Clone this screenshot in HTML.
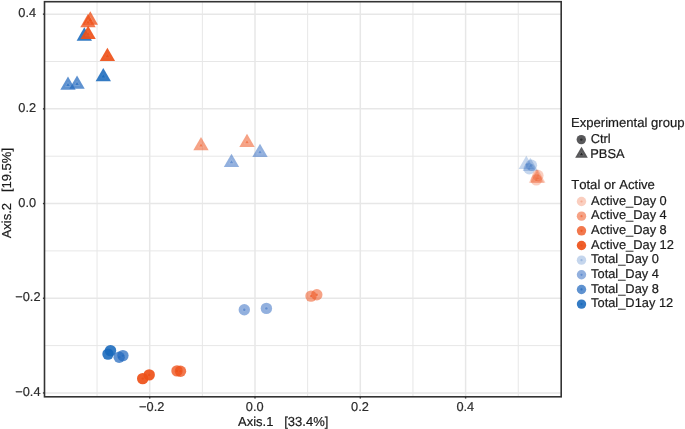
<!DOCTYPE html>
<html lang="en"><head><meta charset="utf-8"><title>PCoA</title>
<style>
html,body{margin:0;padding:0;background:#fff;}
body{width:685px;height:429px;overflow:hidden;}
svg{display:block;} text{stroke-width:0.2px;paint-order:stroke;} .ax{stroke:#2b2b2b;} .tt,.lt,.ll{stroke:#1a1a1a;} svg{text-rendering:geometricPrecision;font-family:"Liberation Sans",sans-serif;font-size:13px;}
.ax{fill:#2b2b2b;font-size:12.8px;}
.tt{fill:#1a1a1a;}
.lt{fill:#1a1a1a;font-size:13.1px;font-kerning:none;}
.ll{fill:#1a1a1a;font-size:12.85px;}
</style></head><body>
<svg width="685" height="429" viewBox="0 0 685 429">
<rect x="0" y="0" width="685" height="429" fill="#fff"/>
<g stroke="#E7E7E7" stroke-width="1.0" fill="none">
<line x1="97.05" y1="1.7" x2="97.05" y2="396.8"/>
<line x1="202.35" y1="1.7" x2="202.35" y2="396.8"/>
<line x1="307.65" y1="1.7" x2="307.65" y2="396.8"/>
<line x1="412.95" y1="1.7" x2="412.95" y2="396.8"/>
<line x1="518.25" y1="1.7" x2="518.25" y2="396.8"/>
<line x1="44.5" y1="345.60" x2="561.2" y2="345.60"/>
<line x1="44.5" y1="250.90" x2="561.2" y2="250.90"/>
<line x1="44.5" y1="156.20" x2="561.2" y2="156.20"/>
<line x1="44.5" y1="61.50" x2="561.2" y2="61.50"/>
</g>
<g stroke="#E7E7E7" stroke-width="1.5" fill="none">
<line x1="149.70" y1="1.7" x2="149.70" y2="396.8"/>
<line x1="255.00" y1="1.7" x2="255.00" y2="396.8"/>
<line x1="360.30" y1="1.7" x2="360.30" y2="396.8"/>
<line x1="465.60" y1="1.7" x2="465.60" y2="396.8"/>
<line x1="44.5" y1="392.95" x2="561.2" y2="392.95"/>
<line x1="44.5" y1="298.25" x2="561.2" y2="298.25"/>
<line x1="44.5" y1="203.55" x2="561.2" y2="203.55"/>
<line x1="44.5" y1="108.85" x2="561.2" y2="108.85"/>
<line x1="44.5" y1="14.15" x2="561.2" y2="14.15"/>
</g>
<g>
<polygon points="84.30,27.34 91.98,40.63 76.62,40.63" fill="#1869BC" fill-opacity="0.88"/>
<polygon points="84.30,32.27 87.53,37.87 81.07,37.87" fill="#fff" fill-opacity="0.05"/>
<polygon points="84.30,33.88 86.05,36.91 82.55,36.91" fill="#1869BC" fill-opacity="0.88"/>
<polygon points="103.30,67.94 110.98,81.23 95.62,81.23" fill="#1869BC" fill-opacity="0.88"/>
<polygon points="103.30,72.87 106.53,78.47 100.07,78.47" fill="#fff" fill-opacity="0.05"/>
<polygon points="103.30,74.48 105.05,77.51 101.55,77.51" fill="#1869BC" fill-opacity="0.88"/>
<polygon points="68.00,76.54 75.68,89.83 60.32,89.83" fill="#2469BF" fill-opacity="0.73"/>
<polygon points="68.00,81.47 71.23,87.07 64.77,87.07" fill="#fff" fill-opacity="0.13"/>
<polygon points="68.00,83.08 69.75,86.11 66.25,86.11" fill="#2469BF" fill-opacity="0.73"/>
<polygon points="77.05,75.54 84.73,88.83 69.37,88.83" fill="#2469BF" fill-opacity="0.73"/>
<polygon points="77.05,80.47 80.28,86.07 73.82,86.07" fill="#fff" fill-opacity="0.13"/>
<polygon points="77.05,82.08 78.80,85.11 75.30,85.11" fill="#2469BF" fill-opacity="0.73"/>
<polygon points="231.50,153.74 239.18,167.03 223.82,167.03" fill="#3870C2" fill-opacity="0.55"/>
<polygon points="231.50,158.67 234.73,164.27 228.27,164.27" fill="#fff" fill-opacity="0.13"/>
<polygon points="231.50,160.28 233.25,163.31 229.75,163.31" fill="#3870C2" fill-opacity="0.55"/>
<polygon points="260.00,143.64 267.68,156.93 252.32,156.93" fill="#3870C2" fill-opacity="0.55"/>
<polygon points="260.00,148.57 263.23,154.17 256.77,154.17" fill="#fff" fill-opacity="0.13"/>
<polygon points="260.00,150.18 261.75,153.21 258.25,153.21" fill="#3870C2" fill-opacity="0.55"/>
<polygon points="526.30,155.74 533.98,169.03 518.62,169.03" fill="#2F6CC0" fill-opacity="0.28"/>
<polygon points="526.30,160.67 529.53,166.27 523.07,166.27" fill="#fff" fill-opacity="0.13"/>
<polygon points="526.30,162.28 528.05,165.31 524.55,165.31" fill="#2F6CC0" fill-opacity="0.28"/>
<polygon points="530.30,157.64 537.98,170.93 522.62,170.93" fill="#2F6CC0" fill-opacity="0.28"/>
<polygon points="530.30,162.57 533.53,168.17 527.07,168.17" fill="#fff" fill-opacity="0.13"/>
<polygon points="530.30,164.18 532.05,167.21 528.55,167.21" fill="#2F6CC0" fill-opacity="0.28"/>
<circle cx="529.20" cy="168.80" r="5.70" fill="#2F6CC0" fill-opacity="0.28"/>
<circle cx="529.20" cy="168.80" r="2.40" fill="#fff" fill-opacity="0.05"/>
<circle cx="529.20" cy="168.80" r="1.20" fill="#2F6CC0" fill-opacity="0.28"/>
<circle cx="531.40" cy="165.30" r="5.70" fill="#2F6CC0" fill-opacity="0.28"/>
<circle cx="531.40" cy="165.30" r="2.40" fill="#fff" fill-opacity="0.05"/>
<circle cx="531.40" cy="165.30" r="1.20" fill="#2F6CC0" fill-opacity="0.28"/>
<circle cx="244.30" cy="309.80" r="5.70" fill="#3870C2" fill-opacity="0.55"/>
<circle cx="244.30" cy="309.80" r="2.40" fill="#fff" fill-opacity="0.05"/>
<circle cx="244.30" cy="309.80" r="1.20" fill="#3870C2" fill-opacity="0.55"/>
<circle cx="266.40" cy="308.40" r="5.70" fill="#3870C2" fill-opacity="0.55"/>
<circle cx="266.40" cy="308.40" r="2.40" fill="#fff" fill-opacity="0.05"/>
<circle cx="266.40" cy="308.40" r="1.20" fill="#3870C2" fill-opacity="0.55"/>
<circle cx="119.20" cy="357.20" r="5.70" fill="#2469BF" fill-opacity="0.73"/>
<circle cx="119.20" cy="357.20" r="2.40" fill="#fff" fill-opacity="0.025"/>
<circle cx="119.20" cy="357.20" r="1.20" fill="#2469BF" fill-opacity="0.73"/>
<circle cx="122.90" cy="355.60" r="5.70" fill="#2469BF" fill-opacity="0.73"/>
<circle cx="122.90" cy="355.60" r="2.40" fill="#fff" fill-opacity="0.025"/>
<circle cx="122.90" cy="355.60" r="1.20" fill="#2469BF" fill-opacity="0.73"/>
<circle cx="108.00" cy="354.10" r="5.70" fill="#1869BC" fill-opacity="0.88"/>
<circle cx="108.00" cy="354.10" r="2.40" fill="#fff" fill-opacity="0.0"/>
<circle cx="108.00" cy="354.10" r="1.20" fill="#1869BC" fill-opacity="0.88"/>
<circle cx="110.50" cy="350.60" r="5.70" fill="#1869BC" fill-opacity="0.88"/>
<circle cx="110.50" cy="350.60" r="2.40" fill="#fff" fill-opacity="0.0"/>
<circle cx="110.50" cy="350.60" r="1.20" fill="#1869BC" fill-opacity="0.88"/>
<polygon points="90.30,11.34 97.98,24.63 82.62,24.63" fill="#EE5018" fill-opacity="0.77"/>
<polygon points="90.30,16.27 93.53,21.87 87.07,21.87" fill="#fff" fill-opacity="0.13"/>
<polygon points="90.30,17.88 92.05,20.91 88.55,20.91" fill="#EE5018" fill-opacity="0.77"/>
<polygon points="88.00,13.84 95.68,27.13 80.32,27.13" fill="#EE5018" fill-opacity="0.77"/>
<polygon points="88.00,18.77 91.23,24.37 84.77,24.37" fill="#fff" fill-opacity="0.13"/>
<polygon points="88.00,20.38 89.75,23.41 86.25,23.41" fill="#EE5018" fill-opacity="0.77"/>
<polygon points="88.10,25.64 95.78,38.93 80.42,38.93" fill="#EE5018" fill-opacity="0.92"/>
<polygon points="88.10,30.57 91.33,36.17 84.87,36.17" fill="#fff" fill-opacity="0.05"/>
<polygon points="88.10,32.18 89.85,35.21 86.35,35.21" fill="#EE5018" fill-opacity="0.92"/>
<polygon points="107.40,47.74 115.08,61.03 99.72,61.03" fill="#EE5018" fill-opacity="0.92"/>
<polygon points="107.40,52.67 110.63,58.27 104.17,58.27" fill="#fff" fill-opacity="0.05"/>
<polygon points="107.40,54.28 109.15,57.31 105.65,57.31" fill="#EE5018" fill-opacity="0.92"/>
<polygon points="201.00,137.04 208.68,150.33 193.32,150.33" fill="#EE5018" fill-opacity="0.53"/>
<polygon points="201.00,141.97 204.23,147.57 197.77,147.57" fill="#fff" fill-opacity="0.13"/>
<polygon points="201.00,143.58 202.75,146.61 199.25,146.61" fill="#EE5018" fill-opacity="0.53"/>
<polygon points="247.00,133.74 254.68,147.03 239.32,147.03" fill="#EE5018" fill-opacity="0.53"/>
<polygon points="247.00,138.67 250.23,144.27 243.77,144.27" fill="#fff" fill-opacity="0.13"/>
<polygon points="247.00,140.28 248.75,143.31 245.25,143.31" fill="#EE5018" fill-opacity="0.53"/>
<polygon points="536.50,169.34 544.18,182.63 528.82,182.63" fill="#EE5018" fill-opacity="0.28"/>
<polygon points="536.50,174.27 539.73,179.87 533.27,179.87" fill="#fff" fill-opacity="0.13"/>
<polygon points="536.50,175.88 538.25,178.91 534.75,178.91" fill="#EE5018" fill-opacity="0.28"/>
<polygon points="537.80,169.34 545.48,182.63 530.12,182.63" fill="#EE5018" fill-opacity="0.28"/>
<polygon points="537.80,174.27 541.03,179.87 534.57,179.87" fill="#fff" fill-opacity="0.13"/>
<polygon points="537.80,175.88 539.55,178.91 536.05,178.91" fill="#EE5018" fill-opacity="0.28"/>
<circle cx="536.30" cy="179.90" r="5.70" fill="#EE5018" fill-opacity="0.28"/>
<circle cx="536.30" cy="179.90" r="2.40" fill="#fff" fill-opacity="0.05"/>
<circle cx="536.30" cy="179.90" r="1.20" fill="#EE5018" fill-opacity="0.28"/>
<circle cx="537.90" cy="175.50" r="5.70" fill="#EE5018" fill-opacity="0.28"/>
<circle cx="537.90" cy="175.50" r="2.40" fill="#fff" fill-opacity="0.05"/>
<circle cx="537.90" cy="175.50" r="1.20" fill="#EE5018" fill-opacity="0.28"/>
<circle cx="311.00" cy="296.10" r="5.70" fill="#EE5018" fill-opacity="0.53"/>
<circle cx="311.00" cy="296.10" r="2.40" fill="#fff" fill-opacity="0.05"/>
<circle cx="311.00" cy="296.10" r="1.20" fill="#EE5018" fill-opacity="0.53"/>
<circle cx="316.80" cy="294.80" r="5.70" fill="#EE5018" fill-opacity="0.53"/>
<circle cx="316.80" cy="294.80" r="2.40" fill="#fff" fill-opacity="0.05"/>
<circle cx="316.80" cy="294.80" r="1.20" fill="#EE5018" fill-opacity="0.53"/>
<circle cx="177.00" cy="370.90" r="5.70" fill="#EE5018" fill-opacity="0.77"/>
<circle cx="177.00" cy="370.90" r="2.40" fill="#fff" fill-opacity="0.025"/>
<circle cx="177.00" cy="370.90" r="1.20" fill="#EE5018" fill-opacity="0.77"/>
<circle cx="180.50" cy="371.20" r="5.70" fill="#EE5018" fill-opacity="0.77"/>
<circle cx="180.50" cy="371.20" r="2.40" fill="#fff" fill-opacity="0.025"/>
<circle cx="180.50" cy="371.20" r="1.20" fill="#EE5018" fill-opacity="0.77"/>
<circle cx="142.70" cy="378.60" r="5.70" fill="#EE5018" fill-opacity="0.92"/>
<circle cx="142.70" cy="378.60" r="2.40" fill="#fff" fill-opacity="0.0"/>
<circle cx="142.70" cy="378.60" r="1.20" fill="#EE5018" fill-opacity="0.92"/>
<circle cx="149.20" cy="374.90" r="5.70" fill="#EE5018" fill-opacity="0.92"/>
<circle cx="149.20" cy="374.90" r="2.40" fill="#fff" fill-opacity="0.0"/>
<circle cx="149.20" cy="374.90" r="1.20" fill="#EE5018" fill-opacity="0.92"/>
</g>
<rect x="44.5" y="1.7" width="516.7" height="395.10" fill="none" stroke="#333" stroke-width="1.6"/>
<g stroke="#333" stroke-width="1.4">
<line x1="149.70" y1="396.8" x2="149.70" y2="398.5"/>
<line x1="255.00" y1="396.8" x2="255.00" y2="398.5"/>
<line x1="360.30" y1="396.8" x2="360.30" y2="398.5"/>
<line x1="465.60" y1="396.8" x2="465.60" y2="398.5"/>
<line x1="42.9" y1="392.95" x2="44.5" y2="392.95"/>
<line x1="42.9" y1="298.25" x2="44.5" y2="298.25"/>
<line x1="42.9" y1="203.55" x2="44.5" y2="203.55"/>
<line x1="42.9" y1="108.85" x2="44.5" y2="108.85"/>
<line x1="42.9" y1="14.15" x2="44.5" y2="14.15"/>
</g>
<g class="ax" text-anchor="middle">
<text x="151.70" y="410.5">−0.2</text>
<text x="254.70" y="410.5">0.0</text>
<text x="360.00" y="410.5">0.2</text>
<text x="465.30" y="410.5">0.4</text>
<text x="27.9" y="396.05">−0.4</text>
<text x="27.9" y="301.35">−0.2</text>
<text x="27.2" y="206.65">0.0</text>
<text x="27.2" y="111.95">0.2</text>
<text x="27.2" y="17.25">0.4</text>
</g>
<text class="tt" x="238.0" y="425.6" xml:space="preserve">Axis.1   [33.4%]</text>
<text class="tt" transform="translate(11.3,238.3) rotate(-90)" xml:space="preserve">Axis.2   [19.5%]</text>
<text class="lt" x="571.0" y="126.8">Experimental group</text>
<circle cx="581.30" cy="139.60" r="4.70" fill="#58585a" fill-opacity="1"/>
<circle cx="581.30" cy="139.60" r="1.20" fill="#2a2a2c" fill-opacity="1"/>
<polygon points="581.50,146.79 587.83,157.75 575.17,157.75" fill="#58585a" fill-opacity="1"/>
<polygon points="581.50,150.88 584.46,156.01 578.54,156.01" fill="#fff" fill-opacity="0.1"/>
<polygon points="581.50,152.43 583.12,155.23 579.88,155.23" fill="#262628" fill-opacity="1"/>
<text class="ll" x="590.7" y="142.6">Ctrl</text>
<text class="ll" x="590.3" y="157.5">PBSA</text>
<text class="lt" x="571.2" y="188.8">Total or Active</text>
<circle cx="581.50" cy="201.50" r="4.70" fill="#EE5018" fill-opacity="0.28"/>
<circle cx="581.50" cy="201.50" r="1.10" fill="#EE5018" fill-opacity="0.28"/>
<text class="ll" x="591.1" y="204.70">Active_Day 0</text>
<circle cx="581.50" cy="216.16" r="4.70" fill="#EE5018" fill-opacity="0.53"/>
<circle cx="581.50" cy="216.16" r="1.10" fill="#EE5018" fill-opacity="0.53"/>
<text class="ll" x="591.1" y="219.36">Active_Day 4</text>
<circle cx="581.50" cy="230.82" r="4.70" fill="#EE5018" fill-opacity="0.77"/>
<circle cx="581.50" cy="230.82" r="1.10" fill="#EE5018" fill-opacity="0.77"/>
<text class="ll" x="591.1" y="234.02">Active_Day 8</text>
<circle cx="581.50" cy="245.48" r="4.70" fill="#EE5018" fill-opacity="0.92"/>
<circle cx="581.50" cy="245.48" r="1.10" fill="#EE5018" fill-opacity="0.92"/>
<text class="ll" x="591.1" y="248.68">Active_Day 12</text>
<circle cx="581.50" cy="260.14" r="4.70" fill="#2F6CC0" fill-opacity="0.28"/>
<circle cx="581.50" cy="260.14" r="1.10" fill="#2F6CC0" fill-opacity="0.28"/>
<text class="ll" x="591.1" y="263.34">Total_Day 0</text>
<circle cx="581.50" cy="274.80" r="4.70" fill="#3870C2" fill-opacity="0.55"/>
<circle cx="581.50" cy="274.80" r="1.10" fill="#3870C2" fill-opacity="0.55"/>
<text class="ll" x="591.1" y="278.00">Total_Day 4</text>
<circle cx="581.50" cy="289.46" r="4.70" fill="#2469BF" fill-opacity="0.73"/>
<circle cx="581.50" cy="289.46" r="1.10" fill="#2469BF" fill-opacity="0.73"/>
<text class="ll" x="591.1" y="292.66">Total_Day 8</text>
<circle cx="581.50" cy="304.12" r="4.70" fill="#1869BC" fill-opacity="0.88"/>
<circle cx="581.50" cy="304.12" r="1.10" fill="#1869BC" fill-opacity="0.88"/>
<text class="ll" x="591.1" y="307.32">Total_D1ay 12</text>
</svg></body></html>
